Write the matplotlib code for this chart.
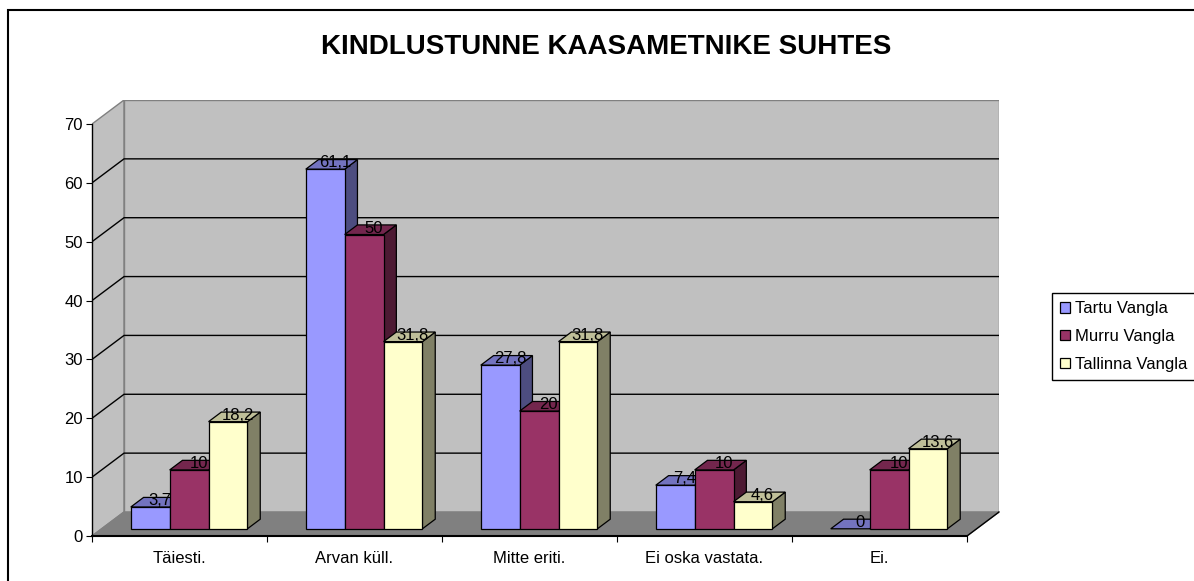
import matplotlib
matplotlib.use('Agg')
import matplotlib.pyplot as plt
from matplotlib.patches import Rectangle, Polygon, Patch

plt.rcParams['font.family'] = ['Liberation Sans', 'DejaVu Sans']

# Data
categories = ['Täiesti.', 'Arvan küll.', 'Mitte eriti.', 'Ei oska vastata.', 'Ei.']
series_names = ['Tartu Vangla', 'Murru Vangla', 'Tallinna Vangla']
tartu = [3.7, 61.1, 27.8, 7.4, 0]
murru = [10, 50, 20, 10, 10]
tallinna = [18.2, 31.8, 31.8, 4.6, 13.6]
y_ticks = [0, 10, 20, 30, 40, 50, 60, 70]

values = [tartu, murru, tallinna]

# face colours: front, top, side
front_cols = ['#9999FF', '#993366', '#FFFFCC']
top_cols = ['#7373BF', '#73264D', '#BFBF99']
side_cols = ['#4D4D80', '#4D1A33', '#808066']

# 3d look: depth offset of the box in data units
dx = 0.183
dy = 4.08
f1, f2 = 0.3, 0.7          # bar depth inside the box
w = 1 / 4.5                # bar width, gap 150%
ymax = 70

W, H = 1194, 581
fig = plt.figure(figsize=(W / 100, H / 100), dpi=100)
ax = fig.add_axes([92 / W, 45 / H, 907 / W, 436 / H])
ax.set_xlim(0, len(categories) + dx)
ax.set_ylim(0, ymax + dy)
for s in ax.spines.values():
    s.set_visible(False)
ax.patch.set_visible(False)

n = len(categories)
wall = '#C0C0C0'
edge = '#808080'

# walls and floor
ax.add_patch(Polygon([(0, 0), (0, ymax), (dx, ymax + dy), (dx, dy)],
                     facecolor=wall, edgecolor=edge, lw=1, zorder=0))
ax.add_patch(Rectangle((dx, dy), n, ymax, facecolor=wall, edgecolor=edge, lw=1, zorder=0))
ax.add_patch(Polygon([(0, 0), (n, 0), (n + dx, dy), (dx, dy)],
                     facecolor='#808080', edgecolor=edge, lw=1, zorder=1.5))

# gridlines
for t in y_ticks[1:-1]:
    ax.plot([0, dx, n + dx], [t, t + dy, t + dy], color='black', lw=1, zorder=1)

# bars
z = 2
for c in range(n):
    for s in range(3):
        v = values[s][c]
        x0 = c + 0.75 * w + s * w
        x1 = x0 + w
        ax.add_patch(Polygon([(x1 + f1 * dx, f1 * dy), (x1 + f1 * dx, v + f1 * dy),
                              (x1 + f2 * dx, v + f2 * dy), (x1 + f2 * dx, f2 * dy)],
                             facecolor=side_cols[s], edgecolor='black', lw=0.9, zorder=z))
        ax.add_patch(Polygon([(x0 + f1 * dx, v + f1 * dy), (x1 + f1 * dx, v + f1 * dy),
                              (x1 + f2 * dx, v + f2 * dy), (x0 + f2 * dx, v + f2 * dy)],
                             facecolor=top_cols[s], edgecolor='black', lw=0.9, zorder=z))
        if v > 0:
            ax.add_patch(Rectangle((x0 + f1 * dx, f1 * dy), w, v,
                                   facecolor=front_cols[s], edgecolor='black', lw=0.9, zorder=z))
        z += 1

# data labels
for c in range(n):
    for s in range(3):
        v = values[s][c]
        x0 = c + 0.75 * w + s * w
        lab = ('%g' % v).replace('.', ',')
        ax.text(x0 + w / 2 + (f1 + 0.75 * (f2 - f1)) * dx, v + f1 * dy + 1.1, lab,
                ha='center', va='center', fontsize=12, color='black', zorder=50)

# axis lines
ax.plot([0, 0], [0, ymax], color='black', lw=1, zorder=40, clip_on=False)
ax.plot([0, n], [0, 0], color='black', lw=1.5, zorder=40, clip_on=False)
ax.plot([n, n + dx], [0, dy], color='black', lw=1, zorder=40, clip_on=False)

ax.set_yticks(y_ticks)
ax.set_yticklabels([str(t) for t in y_ticks], fontsize=12)
ax.tick_params(axis='y', direction='out', length=4.5, width=0.8, pad=2)

ax.set_xticks(range(n + 1))
ax.set_xticklabels([])
ax.set_xticks([c + 0.5 for c in range(n)], minor=True)
ax.set_xticklabels(categories, minor=True, fontsize=12)
ax.tick_params(axis='x', which='major', direction='out', length=4.5, width=0.8)
ax.tick_params(axis='x', which='minor', length=0, pad=11)

# title
fig.text(606 / W, 1 - 47 / H, 'KINDLUSTUNNE KAASAMETNIKE SUHTES',
         ha='center', va='center', fontsize=20, fontweight='bold')

# legend
handles = [Patch(facecolor=front_cols[s], edgecolor='black', lw=0.9) for s in range(3)]
leg = fig.legend(handles, series_names, loc='upper left',
                 bbox_to_anchor=(1052 / W, 1 - 293 / H), borderaxespad=0,
                 fontsize=12, frameon=True, fancybox=False, framealpha=1,
                 handlelength=0.6, handleheight=0.6, handletextpad=0.3,
                 labelspacing=0.76, borderpad=0.5)
leg.get_frame().set_edgecolor('black')
leg.get_frame().set_linewidth(1)

# chart area border
fig.patches.append(Rectangle((8 / W, -0.1), 1.2, 1.1 - 10 / H, transform=fig.transFigure,
                             fill=False, edgecolor='black', lw=1.5))

plt.savefig('out.png', dpi=100)
